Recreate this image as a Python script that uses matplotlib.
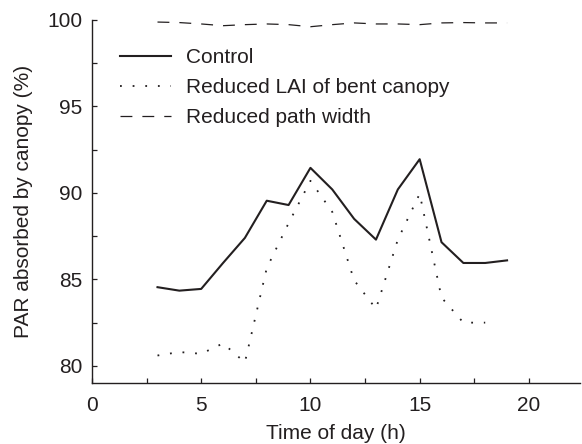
# PAR absorbed by canopy over the day

import numpy as np
import matplotlib.pyplot as plt
from matplotlib.ticker import MultipleLocator

plt.rcParams['font.family'] = ['Liberation Sans', 'DejaVu Sans']

hours = [3, 4, 5, 6, 7, 8, 9, 10, 11, 12, 13, 14, 15, 16, 17, 18, 19]
control = [84.55, 84.35, 84.45, 85.95, 87.4, 89.55, 89.3, 91.45, 90.2, 88.5,
           87.3, 90.2, 91.95, 87.15, 85.95, 85.95, 86.1]

hours_lai = [3, 4, 5, 6, 7, 8, 9, 10, 11, 12, 13, 14, 15, 16, 17, 18]
reduced_lai = [80.6, 80.8, 80.7, 81.3, 80.2, 85.65, 88.25, 90.7, 88.9, 84.95,
               83.3, 87.3, 89.95, 83.95, 82.5, 82.5]

reduced_path = [99.88, 99.85, 99.77, 99.67, 99.73, 99.77, 99.73, 99.61, 99.73,
                99.83, 99.77, 99.77, 99.73, 99.83, 99.85, 99.83, 99.83]

ink = '#231f20'

fig = plt.figure(figsize=(5.82, 4.44), dpi=100)
ax = fig.add_axes([0.158, 0.137, 0.839, 0.818])

ax.plot(hours, control, color=ink, linewidth=1.5, label='Control')
ax.plot(hours_lai, reduced_lai, color=ink, linewidth=1.3,
        linestyle=(0, (1, 6)), label='Reduced LAI of bent canopy')
ax.plot(hours, reduced_path, color=ink, linewidth=0.9,
        linestyle=(0, (9.5, 8)), label='Reduced path width')

ax.set_xlim(0, 22.35)
ax.set_ylim(79, 100)
ax.xaxis.set_major_locator(MultipleLocator(5))
ax.xaxis.set_minor_locator(MultipleLocator(2.5))
ax.yaxis.set_major_locator(MultipleLocator(5))
ax.yaxis.set_minor_locator(MultipleLocator(2.5))

for side in ['top', 'right']:
    ax.spines[side].set_visible(False)
for side in ['left', 'bottom']:
    ax.spines[side].set_color(ink)
    ax.spines[side].set_linewidth(1.0)

ax.tick_params(which='both', direction='in', length=3.5, width=0.9, color=ink,
               labelsize=15, labelcolor=ink)
ax.tick_params(axis='x', which='both', pad=9)
ax.tick_params(axis='y', which='both', pad=7)

ax.set_xlabel('Time of day (h)', fontsize=15, color=ink, labelpad=7)
ax.set_ylabel('PAR absorbed by canopy (%)', fontsize=15, color=ink, labelpad=10)

ax.legend(loc='upper left', bbox_to_anchor=(0.037, 0.952), frameon=False,
          fontsize=15, handlelength=2.45, handletextpad=0.7,
          labelspacing=0.53, borderpad=0, labelcolor=ink)

fig.savefig('out.png', dpi=100)
